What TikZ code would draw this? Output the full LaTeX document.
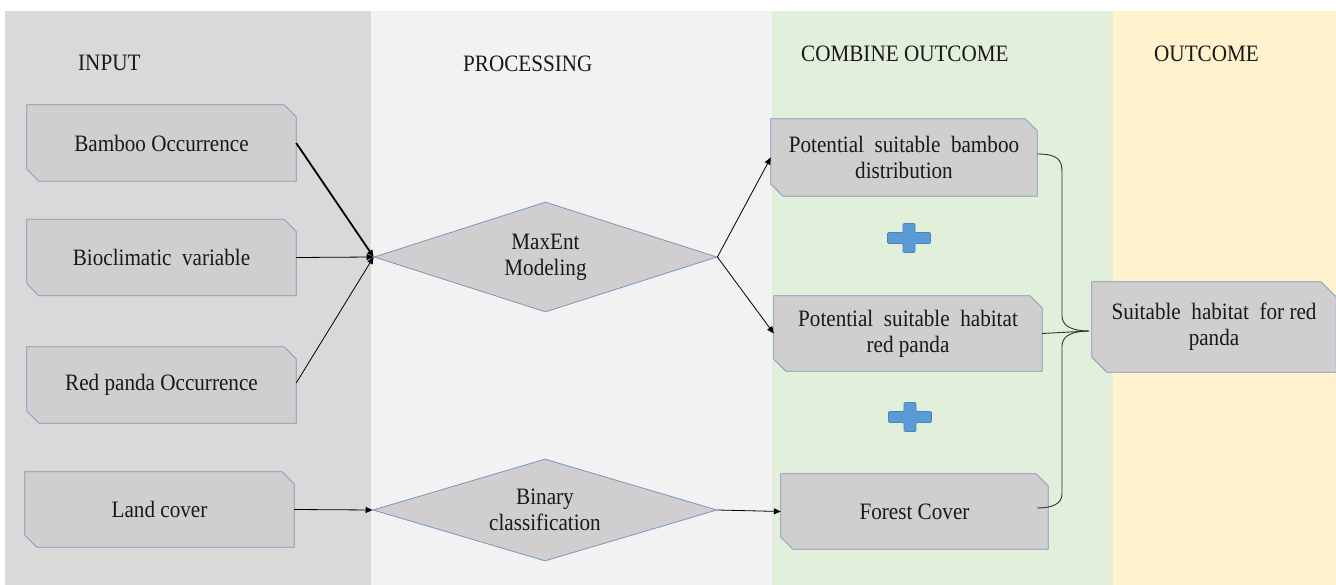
\documentclass[tikz,border=0pt]{standalone}
\usepackage{fontspec}
\setmainfont{Liberation Serif}[FakeStretch=0.9]
\usetikzlibrary{shapes.geometric,arrows.meta}
\definecolor{panelA}{HTML}{D9D9D9}
\definecolor{panelB}{HTML}{F2F2F2}
\definecolor{panelC}{HTML}{E2EFDA}
\definecolor{panelD}{HTML}{FFF2CC}
\definecolor{boxfill}{HTML}{D0CECE}
\definecolor{boxline}{HTML}{7A96BC}
\definecolor{plusfill}{HTML}{5B9BD5}
\definecolor{plusline}{HTML}{4A86BE}
\pgfdeclarelayer{panels}
\pgfdeclarelayer{shapes}
\pgfsetlayers{panels,shapes,main}
\newcommand\snipout[2]{%
  \begin{pgfonlayer}{shapes}
    \filldraw[boxpaint] (#1.north west) -- ([xshift=-#2pt]#1.north east) -- ([yshift=-#2pt]#1.north east)
      -- (#1.south east) -- ([xshift=#2pt]#1.south west) -- ([yshift=#2pt]#1.south west) -- cycle;
  \end{pgfonlayer}}
\begin{document}
\begin{tikzpicture}[x=1pt,y=-1pt,
  txt/.style={font=\fontsize{23.5}{26}\selectfont,text=black!90},
  boxpaint/.style={fill=boxfill,draw=boxline,line width=0.8pt,line join=miter},
  box/.style={txt,rectangle,inner sep=0pt,align=center},
  dia/.style={txt,diamond,inner sep=0pt,align=center,fill=boxfill,draw=boxline,line width=0.8pt},
  head/.style={txt,anchor=base west,inner sep=0pt},
  conn/.style={line width=0.8pt,-{Triangle[length=7pt,width=6pt]}},
  pics/plussign/.style={code={
    \filldraw[fill=plusfill,draw=plusline,line width=0.6pt,rounded corners=1pt]
      (-6,-14.5) -- (6,-14.5) -- (6,-5.5) -- (21.5,-5.5) -- (21.5,5.5) -- (6,5.5) -- (6,14.5)
      -- (-6,14.5) -- (-6,5.5) -- (-21.5,5.5) -- (-21.5,-5.5) -- (-6,-5.5) -- cycle;}}
]
\useasboundingbox (0,0) rectangle (1336,585);
\begin{pgfonlayer}{panels}
  \fill[white] (0,0) rectangle (1336,585);
  \fill[panelA] (4.5,11) rectangle (371,585);
  \fill[panelB] (371,11) rectangle (772,585);
  \fill[panelC] (772,11) rectangle (1113,585);
  \fill[panelD] (1113,11) rectangle (1336,585);
\end{pgfonlayer}

% headers
\node[head] (hin) at (78,71) {INPUT};
\node[head] (hpr) at (463,72) {PROCESSING};
\node[head] (hco) at (801,62) {COMBINE OUTCOME};
\node[head] (hou) at (1154,62) {OUTCOME};

% input boxes
\node[box,minimum width=269pt,minimum height=76pt] (b1) at (161.5,143) {Bamboo Occurrence};
\node[box,minimum width=269pt,minimum height=76pt] (b2) at (161.5,257.5) {Bioclimatic\ \ variable};
\node[box,minimum width=269pt,minimum height=76pt] (b3) at (161.5,385) {Red panda Occurrence};
\node[box,minimum width=269pt,minimum height=75pt] (lc) at (159.5,509.5) {Land cover};
\snipout{b1}{12}
\snipout{b2}{12}
\snipout{b3}{12}
\snipout{lc}{12}

% diamonds
\node[dia,aspect=3.12,minimum width=343pt,minimum height=110pt] (me) at (545.5,257) {MaxEnt\\Modeling};
\node[dia,aspect=3.37,minimum width=344pt,minimum height=102pt] (bc) at (545,510) {Binary\\classification};

% combine boxes
\node[box,minimum width=266pt,minimum height=77pt] (p1) at (904,157.5) {Potential\ \ suitable\ \ bamboo\\distribution};
\node[box,minimum width=268pt,minimum height=75pt] (p2) at (908,333.5) {Potential\ \ suitable\ \ habitat\\red panda};
\node[box,minimum width=267pt,minimum height=75pt] (fc) at (914.5,511.5) {Forest Cover};
\node[box,minimum width=244pt,minimum height=90pt] (sh) at (1214,327) {Suitable\ \ habitat\ \ for red\\panda};
\snipout{p1}{12}
\snipout{p2}{12}
\snipout{fc}{12}
\snipout{sh}{15}

% plus signs
\pic (plusA) at (909,238) {plussign};
\pic (plusB) at (910,417) {plussign};

% connectors
\draw[conn,line width=1.8pt] (b1.east) -- (me.west);
\draw[conn] (b2.east) -- (me.west);
\draw[conn] ([yshift=2pt]b3.east) -- (me.west);
\draw[conn] (lc.east) -- (bc.west);
\draw[conn] (me.east) -- (p1.west);
\draw[conn] (me.east) -- (p2.west);
\draw[conn] (bc.east) -- (fc.west);

% brace
\coordinate (tip) at (1089,331);
\coordinate (bend) at (1037,508);
\coordinate (btop) at (1037,154);
\draw[line width=0.9pt,black!80]
  (btop) .. controls (1058,154) and (1062,160) .. (1062,172)
  -- (1062,316) .. controls (1062,327) and (1074,331) .. (tip)
  .. controls (1074,331) and (1062,335) .. (1062,346)
  -- (1062,494) .. controls (1062,504) and (1052,508) .. (bend);
\draw[line width=0.9pt,black!80] (p2.east) -- (tip);
\end{tikzpicture}
\end{document}
